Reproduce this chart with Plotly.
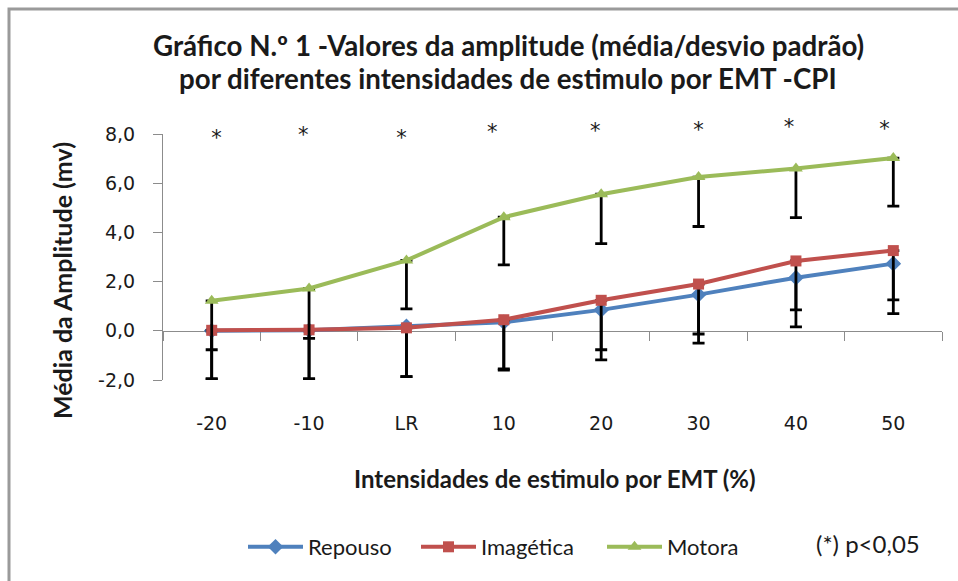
import plotly.graph_objects as go

# Stimulus intensities (categories on the x axis)
intensidades = ["-20", "-10", "LR", "10", "20", "30", "40", "50"]

# Mean amplitude (mV) per condition
repouso_media = [0.00, 0.02, 0.18, 0.35, 0.85, 1.47, 2.16, 2.73]
imagetica_media = [0.02, 0.04, 0.12, 0.45, 1.24, 1.90, 2.84, 3.26]
motora_media = [1.22, 1.72, 2.86, 4.62, 5.55, 6.25, 6.60, 7.02]

# Standard deviations (drawn downwards only)
repouso_dp = [1.96, 1.98, 2.04, 1.95, 2.03, 1.97, 2.00, 2.03]
imagetica_dp = [1.98, 2.00, 1.98, 2.00, 2.01, 2.03, 1.99, 2.00]
motora_dp = [1.99, 2.03, 1.97, 1.94, 2.01, 2.01, 2.00, 1.95]

# Significance marks (*): anchor height (text sits above it) and small
# horizontal offset (in category units) of each mark
sig_y = [7.32, 7.45, 7.36, 7.60, 7.63, 7.65, 7.79, 7.72]
sig_dx = [0.05, -0.06, -0.05, -0.12, -0.06, 0.0, -0.07, -0.09]

y_ticks = [-2, 0, 2, 4, 6, 8]
y_ticktext = ["-2,0", "0,0", "2,0", "4,0", "6,0", "8,0"]

W, H = 958, 581
L, R, T, B = 163, 16, 134, 201
PW, PH = W - L - R, H - T - B


def px(xp):
    return (xp - L) / PW


def py(yp):
    return (H - B - yp) / PH


TXT = "#1a1a1a"
AXC = "#8c8c8c"
SANS = "DejaVu Sans"
CAL = "Lato"

series = [
    ("Repouso", repouso_media, repouso_dp, "#4F81BD", "diamond", 12, "legend", 243),
    ("Imagética", imagetica_media, imagetica_dp, "#C0504D", "square", 11, "legend2", 416),
    ("Motora", motora_media, motora_dp, "#9BBB59", "triangle-up", 12, "legend3", 602),
]

fig = go.Figure()
legends = {}
for name, media, dp, cor, simbolo, tam, leg, lx in series:
    fig.add_trace(go.Scatter(
        x=intensidades, y=media, name=name, mode="lines+markers",
        line=dict(color=cor, width=4),
        marker=dict(symbol=simbolo, size=tam, color=cor),
        error_y=dict(type="data", symmetric=False, array=[0] * len(dp),
                     arrayminus=dp, color="black", thickness=2.8, width=6),
        cliponaxis=False, legend=leg,
    ))
    legends[leg] = dict(orientation="h", x=px(lx), y=py(547), xanchor="left",
                        yanchor="middle",
                        font=dict(family=CAL, size=22, color=TXT),
                        itemwidth=55, bgcolor="rgba(0,0,0,0)")

# Significance asterisks, on the linear overlay axis that shares the
# category positions
fig.add_trace(go.Scatter(
    x=[i + d for i, d in enumerate(sig_dx)], y=sig_y, xaxis="x2",
    mode="text", text=["*"] * len(sig_y), textposition="top center",
    textfont=dict(family=SANS, size=21, color=TXT),
    showlegend=False, hoverinfo="skip", cliponaxis=False,
))


def label(xp, yp, text, size, family, angle=0):
    return dict(x=px(xp), y=py(yp), xref="paper", yref="paper",
                showarrow=False, xanchor="center", yanchor="middle",
                text=text, textangle=angle,
                font=dict(family=family, size=size, color=TXT))


ann = [
    label(508, 45, "<b>Gráfico N.º 1 -Valores da amplitude (média/desvio padrão)</b>", 27.7, CAL),
    label(508, 78, "<b>por diferentes intensidades de estimulo por EMT -CPI</b>", 27.7, CAL),
    label(555, 478, "<b>Intensidades de estimulo por EMT (%)</b>", 24, CAL),
    label(62, 281, "<b>Média da Amplitude (mv)</b>", 25, CAL, -90),
    label(868, 543, "(*) p<0,05", 24, CAL),
]

fig.update_layout(
    width=W, height=H,
    margin=dict(l=L, r=R, t=T, b=B),
    paper_bgcolor="white", plot_bgcolor="white",
    showlegend=True,
    **legends,
    xaxis=dict(type="category", range=[-0.5, 7.5], showgrid=False,
               showline=False, zeroline=False, ticks="",
               ticklabelstandoff=30,
               tickfont=dict(family=SANS, size=19, color=TXT)),
    xaxis2=dict(overlaying="x", anchor="free", position=0.2,
                range=[-0.5, 7.5], tickvals=[i - 0.5 for i in range(9)],
                showticklabels=False, ticks="outside", ticklen=9,
                tickcolor=AXC, showline=True, linecolor=AXC, linewidth=1,
                showgrid=False, zeroline=False, layer="below traces"),
    yaxis=dict(range=[-2, 8], tickvals=y_ticks, ticktext=y_ticktext,
               showgrid=False, zeroline=False, showline=True, linecolor=AXC,
               ticks="outside", ticklen=9, tickcolor=AXC,
               ticklabelstandoff=14,
               tickfont=dict(family=SANS, size=19, color=TXT)),
    annotations=ann,
    shapes=[dict(type="rect", xref="paper", yref="paper",
                 x0=px(9), x1=px(990), y0=py(9), y1=py(620),
                 line=dict(color="#9a9a9a", width=3), layer="below")],
)

fig.write_html("out.html")
